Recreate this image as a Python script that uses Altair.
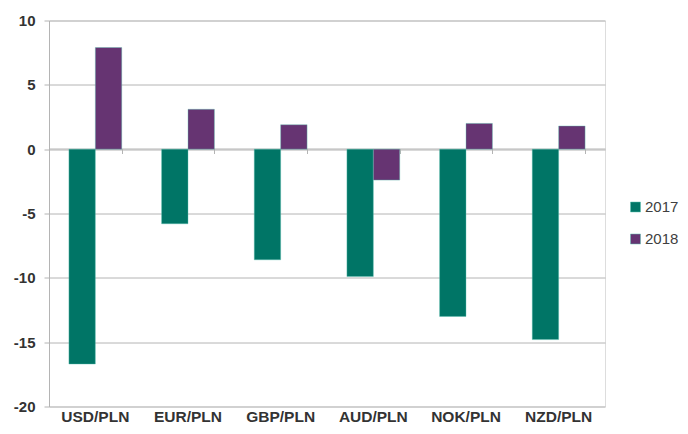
import altair as alt
import pandas as pd

pairs = ["USD/PLN", "EUR/PLN", "GBP/PLN", "AUD/PLN", "NOK/PLN", "NZD/PLN"]
years = ["2017", "2018"]
v2017 = [-16.7, -5.8, -8.6, -9.9, -13.0, -14.8]
v2018 = [7.9, 3.1, 1.9, -2.4, 2.0, 1.8]

rows = []
for p, a, b in zip(pairs, v2017, v2018):
    rows.append({"pair": p, "year": "2017", "value": a})
    rows.append({"pair": p, "year": "2018", "value": b})
df = pd.DataFrame(rows)

font = "Liberation Sans"
grid_c = "#b4b4b4"
xscale = alt.Scale(domain=pairs, paddingInner=0.43, paddingOuter=0.215)
yscale = alt.Scale(domain=[-20, 10], nice=False)
yaxis = alt.Axis(title=None, values=[-20, -15, -10, -5, 0, 5, 10],
                 labelExpr="datum.value + ''",
                 grid=True, gridColor=grid_c, gridWidth=1,
                 domainColor=grid_c, tickColor=grid_c, tickSize=5,
                 labelFont=font, labelFontSize=15, labelFontWeight="bold",
                 labelColor="#333333", labelPadding=9)

bars = alt.Chart(df).mark_bar(stroke="#5cc0b0", strokeWidth=0.4).encode(
    x=alt.X("pair:N", scale=xscale, sort=pairs,
            axis=alt.Axis(title=None, labelAngle=0, ticks=False, domain=False,
                          labelFont=font, labelFontSize=15.5, labelFontWeight="bold",
                          labelColor="#333333", labelPadding=3)),
    xOffset=alt.XOffset("year:N", scale=alt.Scale(paddingInner=0, paddingOuter=0)),
    y=alt.Y("value:Q", scale=yscale, axis=yaxis),
    color=alt.Color("year:N", scale=alt.Scale(domain=years, range=["#007566", "#663472"]),
                    legend=alt.Legend(title=None, orient="none", legendX=579, legendY=179,
                                      symbolType="square", symbolSize=100,
                                      symbolStrokeWidth=0.5, symbolStrokeColor="#5cc0b0",
                                      labelFont=font, labelFontSize=15,
                                      labelColor="#404040", rowPadding=16, labelOffset=2)),
)

zero_axis = alt.Chart(df).mark_bar(opacity=0).encode(
    x=alt.X("pair:N", scale=xscale, sort=pairs,
            axis=alt.Axis(title=None, labels=False, orient="bottom", offset=-258,
                          tickBand="extent", tickOffset=20, tickSize=5, tickColor=grid_c,
                          domainColor=grid_c, grid=False)),
    y=alt.Y("value:Q", scale=yscale, axis=yaxis),
)

chart = alt.layer(bars, zero_axis).resolve_axis(x="independent").properties(
    width=556, height=386,
    autosize=alt.AutoSizeParams(type="none"),
    padding={"left": 41, "top": 12.5, "right": 75, "bottom": 19.5},
).configure_view(stroke=None).configure(background="white")

chart.save("out.html", embed_options={"renderer": "svg", "actions": False})
